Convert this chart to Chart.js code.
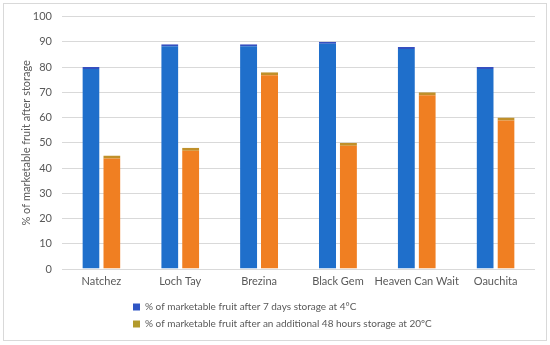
<!DOCTYPE html>
<html>
<head>
<meta charset="utf-8">
<script src="https://cdn.jsdelivr.net/npm/chart.js"></script>
<style>
  html, body { margin: 0; padding: 0; background: #fff; }
  #wrap { width: 550px; height: 345px; position: relative; }
</style>
</head>
<body>
<div id="wrap"><canvas id="chart"></canvas></div>
<script>
const cultivars = ['Natchez', 'Loch Tay', 'Brezina', 'Black Gem', 'Heaven Can Wait', 'Oauchita'];
const after7days = [80, 89, 89, 90, 88, 80];
const after48hours = [45, 48, 78, 50, 70, 60];
const seriesNames = [
    '% of marketable fruit after 7 days storage at 4°C',
    '% of marketable fruit after an additional 48 hours storage at 20ºC',
];
const yTicks = [0, 10, 20, 30, 40, 50, 60, 70, 80, 90, 100];

const textColor = '#595959';
const legendColors = ['#2f55c4', '#b29a2c'];

// outer frame + shift the legend to the right like the original
const framePlugin = {
    id: 'frame',
    beforeDraw(chart) {
        const ctx = chart.ctx;
        ctx.save();
        ctx.strokeStyle = '#d9d9d9';
        ctx.lineWidth = 1;
        ctx.strokeRect(3.5, 3.5, 543, 337);
        ctx.restore();
    },
    afterLayout(chart) {
        const lg = chart.legend;
        if (lg) {
            lg.left += 112;
            lg.right += 112;
        }
    },
};

const ctx = document.getElementById('chart').getContext('2d');
new Chart(ctx, {
    type: 'bar',
    data: {
        labels: cultivars,
        datasets: [
            {
                label: seriesNames[0],
                data: after7days,
                backgroundColor: '#1f6fcb',
                borderColor: '#3550c0',
                borderWidth: { top: 2, left: 0, right: 0, bottom: 0 },
                borderSkipped: false,
            },
            {
                label: seriesNames[1],
                data: after48hours,
                backgroundColor: '#f07f22',
                borderColor: '#c0902a',
                borderWidth: { top: 3, left: 0, right: 0, bottom: 0 },
                borderSkipped: false,
            },
        ],
    },
    options: {
        responsive: true,
        maintainAspectRatio: false,
        animation: false,
        layout: { padding: { left: 14, right: 15, top: 10, bottom: 6 } },
        datasets: {
            bar: { categoryPercentage: 0.53, barPercentage: 0.82 },
        },
        scales: {
            x: {
                grid: { display: false, drawTicks: false },
                border: { display: false },
                afterFit: (axis) => { axis.height = 26; },
                ticks: {
                    color: textColor,
                    font: { family: 'Lato', size: 11 },
                    padding: 6,
                    maxRotation: 0,
                    minRotation: 0,
                    autoSkip: false,
                },
            },
            y: {
                min: 0,
                max: 100,
                afterBuildTicks: (axis) => { axis.ticks = yTicks.map(v => ({ value: v })); },
                afterFit: (axis) => { axis.width = 48; },
                grid: { color: '#d9d9d9', lineWidth: 1, drawTicks: false },
                border: { display: false },
                ticks: { color: textColor, font: { family: 'Lato', size: 11 }, padding: 10 },
                title: {
                    display: true,
                    text: '% of marketable fruit after storage',
                    color: textColor,
                    font: { family: 'Lato', size: 11 },
                    padding: { top: 6, bottom: 0 },
                },
            },
        },
        plugins: {
            tooltip: { enabled: false },
            legend: {
                position: 'bottom',
                align: 'start',
                maxWidth: 340,
                labels: {
                    color: textColor,
                    font: { family: 'Lato', size: 10 },
                    boxWidth: 7,
                    boxHeight: 7,
                    padding: 7,
                    generateLabels: (chart) => chart.data.datasets.map((ds, i) => ({
                        text: ds.label,
                        fillStyle: legendColors[i],
                        strokeStyle: legendColors[i],
                        lineWidth: 0,
                        fontColor: textColor,
                        datasetIndex: i,
                    })),
                },
            },
        },
    },
    plugins: [framePlugin],
});
</script>
</body>
</html>
